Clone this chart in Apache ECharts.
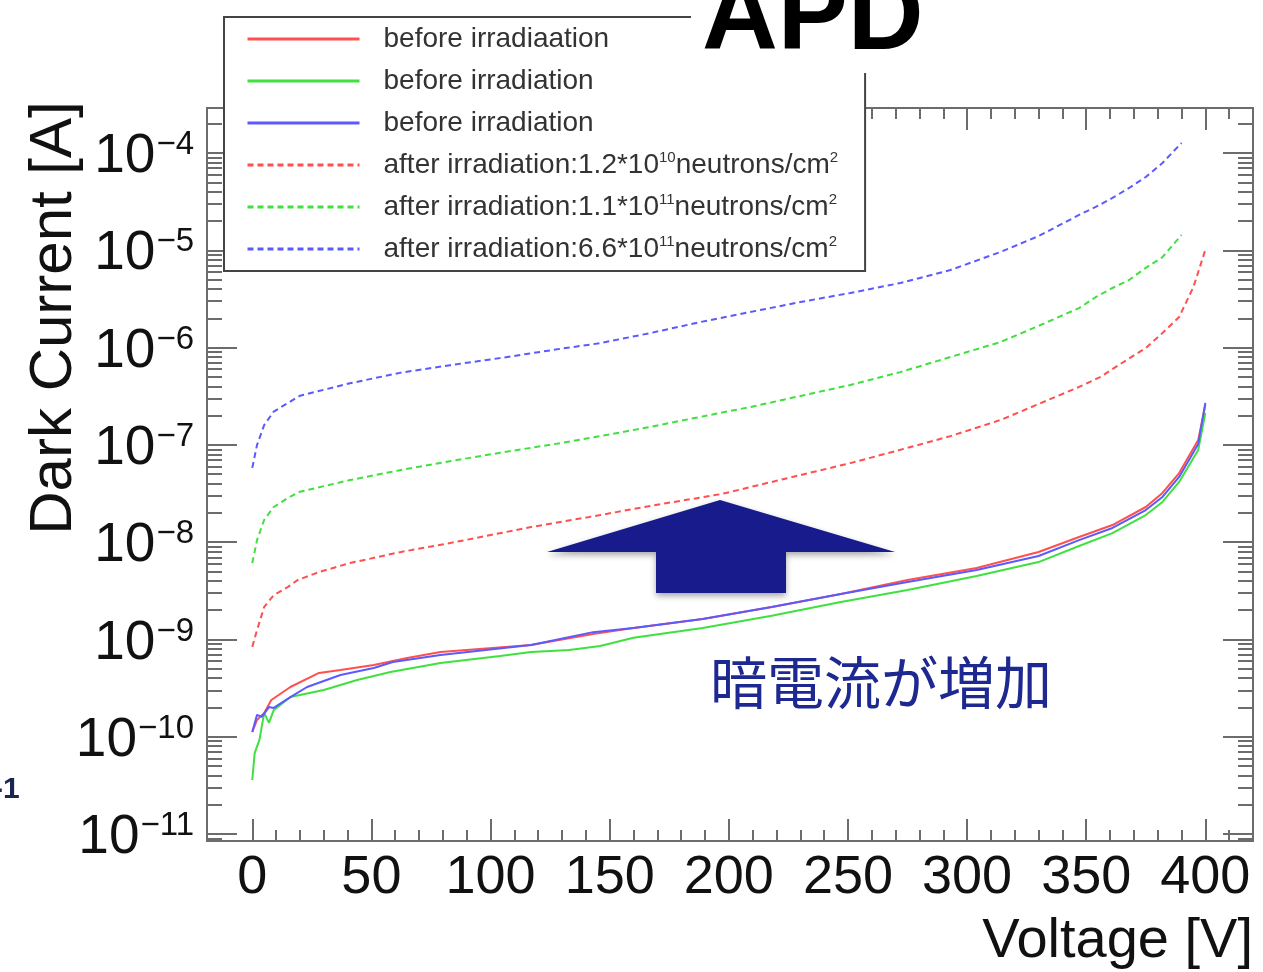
<!DOCTYPE html>
<html><head><meta charset="utf-8">
<script src="https://cdn.jsdelivr.net/npm/echarts@6/dist/echarts.min.js"></script>
<style>html,body{margin:0;padding:0;background:#fff}#c{width:1263px;height:972px}</style>
</head><body><div id="c"></div>
<script>
// ---------- data (Voltage [V], Dark Current [A]) ----------
const voltageTicks = [0, 50, 100, 150, 200, 250, 300, 350, 400];
const voltageMinorTicks = [0,10,20,30,40,50,60,70,80,90,100,110,120,130,140,150,160,170,180,190,200,210,220,230,240,250,260,270,280,290,300,310,320,330,340,350,360,370,380,390,400,410];
const decadeTicks = [-11, -10, -9, -8, -7, -6, -5, -4];
const seriesNames = ['before irradiaation', 'before irradiation', 'before irradiation\u200b',
  'after irradiation:1.2*10^10', 'after irradiation:1.1*10^11', 'after irradiation:6.6*10^11'];

const redBefore = [[0,1.12e-10],[2,1.49e-10],[5,1.76e-10],[8,2.39e-10],[16,3.25e-10],[28,4.53e-10],[37,4.86e-10],[51,5.47e-10],[65,6.46e-10],[79,7.44e-10],[117,8.78e-10],[143,1.14e-9],[160,1.31e-9],[189,1.62e-9],[218,2.16e-9],[247,2.94e-9],[275,4.08e-9],[304,5.43e-9],[330,7.93e-9],[347,1.13e-8],[361,1.50e-8],[375,2.30e-8],[382,3.21e-8],[389,5.14e-8],[397,1.12e-7],[400,2.57e-7]];
const greenBefore = [[0,3.6e-11],[1,6.8e-11],[3,9.3e-11],[5,1.76e-10],[7,1.39e-10],[9,1.88e-10],[16,2.56e-10],[30,3.03e-10],[44,3.84e-10],[58,4.63e-10],[79,5.73e-10],[104,6.76e-10],[117,7.44e-10],[133,7.80e-10],[146,8.57e-10],[160,1.04e-9],[189,1.31e-9],[218,1.75e-9],[247,2.43e-9],[275,3.23e-9],[304,4.50e-9],[330,6.25e-9],[347,9.14e-9],[361,1.24e-8],[375,1.90e-8],[382,2.59e-8],[389,4.16e-8],[397,8.87e-8],[400,2.13e-7]];
const blueBefore = [[0,1.12e-10],[2,1.68e-10],[4,1.60e-10],[7,2.02e-10],[9,1.98e-10],[16,2.56e-10],[23,3.25e-10],[37,4.32e-10],[51,5.09e-10],[59,5.87e-10],[79,6.93e-10],[117,8.78e-10],[143,1.19e-9],[160,1.31e-9],[189,1.62e-9],[218,2.16e-9],[247,2.94e-9],[275,3.90e-9],[304,5.18e-9],[330,7.21e-9],[347,1.05e-8],[361,1.40e-8],[375,2.14e-8],[382,2.92e-8],[389,4.68e-8],[397,1.02e-7],[400,2.70e-7]];
const redAfter = [[0,8.4e-10],[2,1.25e-9],[5,2.16e-9],[9,2.86e-9],[15,3.47e-9],[19,4.08e-9],[28,4.94e-9],[41,6.1e-9],[62,7.9e-9],[83,9.8e-9],[117,1.43e-8],[146,1.90e-8],[167,2.36e-8],[197,3.13e-8],[218,4.16e-8],[251,6.5e-8],[272,8.9e-8],[293,1.23e-7],[314,1.80e-7],[330,2.63e-7],[347,3.94e-7],[356,5.0e-7],[365,6.95e-7],[375,9.9e-7],[382,1.41e-6],[389,2.06e-6],[395,4.2e-6],[400,1.01e-5]];
const greenAfter = [[0,6.1e-9],[2,1.05e-8],[5,1.7e-8],[9,2.3e-8],[15,2.85e-8],[20,3.3e-8],[41,4.35e-8],[62,5.5e-8],[83,6.8e-8],[104,8.3e-8],[129,1.04e-7],[146,1.23e-7],[167,1.53e-7],[188,1.94e-7],[209,2.45e-7],[230,3.18e-7],[251,4.13e-7],[272,5.6e-7],[293,8.0e-7],[314,1.14e-6],[330,1.67e-6],[347,2.55e-6],[354,3.3e-6],[361,4.1e-6],[368,4.95e-6],[375,6.6e-6],[382,8.5e-6],[390,1.44e-5]];
const blueAfter = [[0,5.8e-8],[2,1.0e-7],[5,1.6e-7],[9,2.2e-7],[15,2.7e-7],[20,3.2e-7],[41,4.3e-7],[62,5.5e-7],[83,6.6e-7],[104,7.8e-7],[129,9.7e-7],[146,1.11e-6],[167,1.41e-6],[188,1.83e-6],[209,2.32e-6],[230,2.94e-6],[251,3.64e-6],[272,4.61e-6],[293,6.27e-6],[314,9.6e-6],[330,1.40e-5],[347,2.31e-5],[354,2.79e-5],[361,3.45e-5],[368,4.37e-5],[375,5.67e-5],[382,7.89e-5],[390,1.27e-4]];

// ---------- styling ----------
const FONT = '"Liberation Sans", Arial, Helvetica, sans-serif';
const AXC = '#6c6c6c';
const RED = '#ff5050', GREEN = '#40e040', BLUE = '#5a5aff';
const X_MIN = -19, X_MAX = 420;
const Y_MIN = -11.071, Y_MAX = -3.5375;

const minorDecadeTicks = [];
for (let d = -12; d <= -4; d++) for (let k = 2; k <= 9; k++) {
  const v = d + Math.log10(k);
  if (v > Y_MIN && v < Y_MAX) minorDecadeTicks.push(v);
}

const legendLabels = {
  'before irradiaation': 'before irradiaation',
  'before irradiation': 'before irradiation',
  'before irradiation\u200b': 'before irradiation',
  'after irradiation:1.2*10^10': 'after irradiation:1.2*10{sup|10}neutrons/cm{sup|2}',
  'after irradiation:1.1*10^11': 'after irradiation:1.1*10{sup|11}neutrons/cm{sup|2}',
  'after irradiation:6.6*10^11': 'after irradiation:6.6*10{sup|11}neutrons/cm{sup|2}'
};

function xAx(pos, values, len, line, labels) {
  return {
    type: 'value', position: pos, min: X_MIN, max: X_MAX, gridIndex: 0,
    axisLine: { show: line, onZero: false, lineStyle: { color: AXC, width: 2 } },
    axisTick: { show: true, inside: true, length: len, customValues: values, lineStyle: { color: AXC, width: 2 } },
    axisLabel: labels ? { show: true, customValues: voltageTicks, fontSize: 54, color: '#111', fontFamily: FONT, margin: 10 } : { show: false },
    splitLine: { show: false }
  };
}
function yAx(pos, values, len, line, labels) {
  return {
    type: 'value', position: pos, min: Y_MIN, max: Y_MAX, gridIndex: 0,
    axisLine: { show: line, onZero: false, lineStyle: { color: AXC, width: 2 } },
    axisTick: { show: true, inside: true, length: len, customValues: values, lineStyle: { color: AXC, width: 2 } },
    axisLabel: labels ? {
      show: true, customValues: decadeTicks, margin: 13, padding: [8, 0, 0, 0],
      formatter: v => '{b|10}{s|\u2212' + Math.round(-v) + '}',
      rich: {
        b: { fontSize: 55, fontFamily: FONT, color: '#111' },
        s: { fontSize: 33, fontFamily: FONT, color: '#111', padding: [0, 0, 24, 1] }
      }
    } : { show: false },
    splitLine: { show: false }
  };
}

function lineSeries(name, arr, color, dashed) {
  return {
    name: name, type: 'line', xAxisIndex: 0, yAxisIndex: 0,
    data: arr.map(p => [p[0], Math.log10(p[1])]),
    symbol: 'none', showSymbol: false, smooth: false, z: 3,
    lineStyle: { color: color, width: 2, type: dashed ? [6, 4] : 'solid' },
    itemStyle: { color: color }
  };
}

const chart = echarts.init(document.getElementById('c'), null, { renderer: 'canvas' });
chart.setOption({
  backgroundColor: '#fff',
  animation: false,
  grid: { left: 207, top: 108, width: 1046, height: 733, containLabel: false, outerBoundsMode: 'none' },
  xAxis: [
    xAx('bottom', voltageTicks, 22, true, true),
    xAx('bottom', voltageMinorTicks, 11, false, false),
    xAx('top', voltageTicks, 22, true, false),
    xAx('top', voltageMinorTicks, 11, false, false)
  ],
  yAxis: [
    yAx('left', decadeTicks, 30, true, true),
    yAx('left', minorDecadeTicks, 15, false, false),
    yAx('right', decadeTicks, 30, true, false),
    yAx('right', minorDecadeTicks, 15, false, false)
  ],
  legend: {
    show: true, orient: 'vertical', left: 224, top: 17,
    padding: [7, 27, 7, 22], itemWidth: 112, itemHeight: 14, itemGap: 12,
    backgroundColor: '#fff', borderColor: '#444', borderWidth: 2, borderRadius: 0,
    selectedMode: false, z: 10,
    data: seriesNames,
    itemStyle: { color: 'rgba(0,0,0,0)', borderWidth: 0, opacity: 0 },
    lineStyle: { width: 3 },
    formatter: name => '{sp| }' + legendLabels[name],
    textStyle: {
      fontFamily: FONT, fontSize: 28, color: '#333', lineHeight: 30,
      rich: {
        sp: { width: 19, fontSize: 28 },
        sup: { fontSize: 15, fontFamily: FONT, color: '#333', padding: [0, 0, 14, 0], lineHeight: 15 }
      }
    }
  },
  series: [
    lineSeries(seriesNames[0], redBefore, RED, false),
    lineSeries(seriesNames[1], greenBefore, GREEN, false),
    lineSeries(seriesNames[2], blueBefore, BLUE, false),
    lineSeries(seriesNames[3], redAfter, RED, true),
    lineSeries(seriesNames[4], greenAfter, GREEN, true),
    lineSeries(seriesNames[5], blueAfter, BLUE, true)
  ],
  graphic: [
    { type: 'text', x: 54, y: 318, rotation: Math.PI / 2, z: 30,
      style: { text: 'Dark Current [A]', fontSize: 60, fontFamily: FONT, fill: '#111', align: 'center', verticalAlign: 'middle' } },
    { type: 'text', x: 1253, y: 942, z: 30,
      style: { text: 'Voltage [V]', fontSize: 56, fontFamily: FONT, fill: '#111', align: 'right', verticalAlign: 'middle' } },
    { type: 'rect', shape: { x: 691, y: 0, width: 245, height: 73 }, z: 40, style: { fill: '#fff' } },
    { type: 'text', x: 702, y: 20, z: 41,
      style: { text: 'APD', fontSize: 105, fontWeight: 'bold', fontFamily: FONT, fill: '#000', align: 'left', verticalAlign: 'middle' } },
    { type: 'polygon', z: 40,
      shape: { points: [[547, 552], [720, 500], [895, 552], [786, 552], [786, 593], [656, 593], [656, 552]] },
      style: { fill: '#171b8b', shadowBlur: 6, shadowColor: 'rgba(0,0,0,0.35)', shadowOffsetY: 3 } },
    { type: 'text', x: 710, y: 682, z: 40,
      style: { text: '暗電流が増加', fontSize: 57, fontFamily: '"Noto Sans CJK JP", sans-serif', fill: '#1d2890', align: 'left', verticalAlign: 'middle' } },
    { type: 'text', x: -7, y: 790, z: 40,
      style: { text: '-1', fontSize: 30, fontWeight: 'bold', fontFamily: FONT, fill: '#1a2550', align: 'left', verticalAlign: 'middle' } }
  ]
});
</script></body></html>
